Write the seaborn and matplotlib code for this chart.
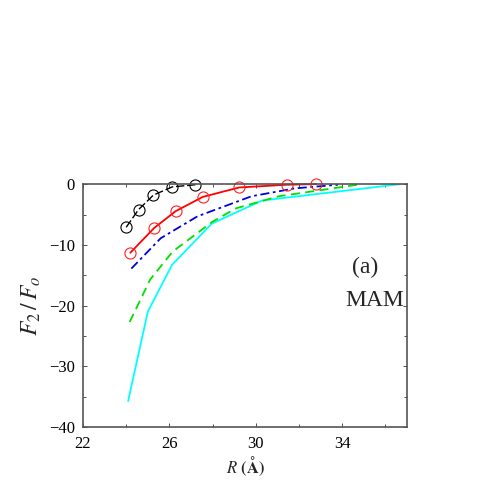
import numpy as np
import pandas as pd
import matplotlib
matplotlib.use("Agg")
import matplotlib.pyplot as plt
import seaborn as sns
from matplotlib.ticker import FixedLocator, MultipleLocator

# ---------- Data ----------
r_black = [24.0, 24.57, 25.26, 26.14, 27.2]
f_black = [-7.1, -4.2, -1.8, -0.45, -0.1]

r_red = [24.19, 25.3, 26.29, 27.55, 29.23, 31.43, 32.8]
f_red = [-11.3, -7.2, -4.45, -2.1, -0.55, -0.1, 0.0]

r_blue = [24.24, 25.6, 27.3, 29.8, 31.8, 33.8]
f_blue = [-13.9, -8.9, -5.3, -2.0, -0.7, -0.1]

r_green = [24.16, 25.11, 26.15, 27.99, 29.07, 31.06, 34.7]
f_green = [-22.7, -15.7, -11.1, -6.2, -4.0, -2.0, -0.1]

r_cyan = [24.09, 25.0, 26.12, 27.96, 30.29, 36.7]
f_cyan = [-35.7, -21.0, -13.3, -6.5, -2.7, 0.0]

x_ticks = [22, 26, 30, 34]
x_minor = [24, 28, 32, 36]

# ---------- Theme ----------
sns.set_style("ticks")
plt.rcParams["font.family"] = ["Liberation Serif", "DejaVu Serif"]
plt.rcParams["mathtext.fontset"] = "stix"

fig = plt.figure(figsize=(4.91, 4.91), dpi=100)
ax = fig.add_axes([0.169, 0.130, 0.660, 0.495])

sns.lineplot(x=r_cyan, y=f_cyan, color="#00ffff", lw=1.3, ax=ax)
sns.lineplot(x=r_green, y=f_green, color="#00e000", lw=1.3, ax=ax,
             linestyle=(0, (5, 3)))
sns.lineplot(x=r_blue, y=f_blue, color="#0000e0", lw=1.3, ax=ax,
             linestyle=(0, (5, 2, 1.5, 2)))
sns.lineplot(x=r_red, y=f_red, color="#ff0000", lw=1.3, ax=ax,
             marker="o", markersize=8, markerfacecolor="none",
             markeredgecolor="#ff2020", markeredgewidth=0.8, clip_on=False)
sns.lineplot(x=r_black, y=f_black, color="black", lw=1.0, ax=ax,
             linestyle=(0, (6, 2)),
             marker="o", markersize=8, markerfacecolor="none",
             markeredgecolor="black", markeredgewidth=0.8, clip_on=False)

ax.set_xlim(22, 37)
ax.set_ylim(-40, 0)
ax.xaxis.set_major_locator(FixedLocator(x_ticks))
ax.xaxis.set_minor_locator(FixedLocator(x_minor))
ax.yaxis.set_major_locator(MultipleLocator(10))
ax.yaxis.set_minor_locator(MultipleLocator(5))
ax.tick_params(which="both", direction="in", top=True, right=True,
               labelsize=12, colors="#333333", labelcolor="black", pad=6)
ax.tick_params(which="major", length=3, width=0.6)
ax.tick_params(which="minor", length=2, width=0.6)
for s in ax.spines.values():
    s.set_color("#555555")
    s.set_linewidth(1.2)

ax.set_xlabel(r"$R$ $\mathbf{(Å)}$", fontsize=12, labelpad=2)
ax.set_ylabel(r"$F_2\,/\,F_o$", fontsize=17, labelpad=4)

ax.text(0.83, 0.635, "(a)", transform=ax.transAxes, fontsize=17)
ax.text(0.81, 0.50, "MAM", transform=ax.transAxes, fontsize=17)

fig.savefig("out.png", dpi=100)
plt.close(fig)
